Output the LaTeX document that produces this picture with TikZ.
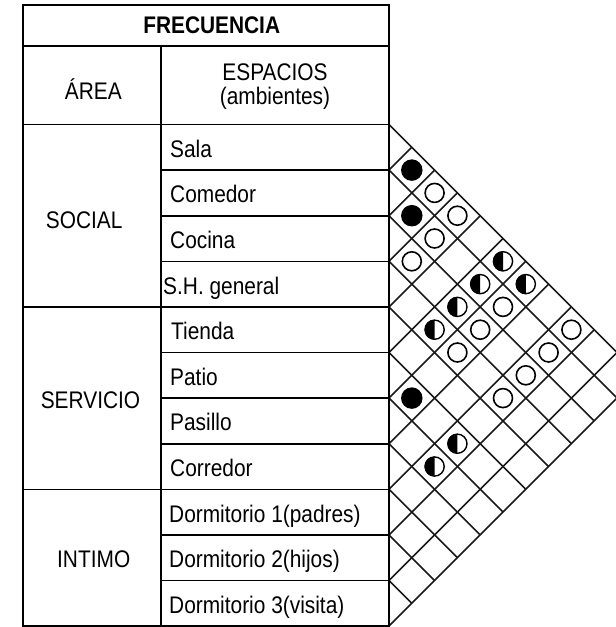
\documentclass[tikz,border=0pt]{standalone}
\usepackage{fontspec}
\setmainfont{Liberation Sans}[FakeStretch=0.87]
\begin{document}
\begin{tikzpicture}[x=1pt,y=-1pt,
  gridline/.style={line width=1.6pt, black!90},
  tabline/.style={line width=1.6pt, black},
  lbl/.style={inner sep=0pt, font=\fontsize{24}{28}\selectfont},
  symfull/.style={circle, fill=black, minimum size=21.5pt, inner sep=0pt},
  symopen/.style={circle, draw=black, line width=1.6pt, minimum size=19pt, inner sep=0pt},
]
\useasboundingbox (0,0) rectangle (616,627);
\clip (0,0) rectangle (616,627);
\def\H{45.6}
\def\Y{124.5}
\def\X{389}
\pgfmathsetmacro\B{\Y+11*\H}

% diagonal grid of the relation matrix
\foreach \k in {0,...,11}{
  \coordinate (B\k) at (\X,{\Y+\k*\H});
  \draw[gridline] (B\k) -- ++({(11-\k)*\H/2},{(11-\k)*\H/2});
  \draw[gridline] (B\k) -- ++({\k*\H/2},{-\k*\H/2});
}

% table
\draw[tabline] (23,5) rectangle (\X,\B);
\draw[tabline] (23,46) -- (\X,46);
\draw[tabline] (161,46) -- (161,\B);
\foreach \k in {0,4,8}{
  \draw[tabline] (23,{\Y+\k*\H}) -- (\X,{\Y+\k*\H});
}
\foreach \k in {1,2,3,5,6,7,9,10}{
  \draw[tabline] (161,{\Y+\k*\H}) -- (\X,{\Y+\k*\H});
}

% header texts
\node[lbl, font=\fontsize{24}{28}\selectfont\bfseries, anchor=base] (frec) at (211.7,33) {FRECUENCIA};
\node[lbl, anchor=base] (area) at (93.3,99) {ÁREA};
\node[lbl, anchor=base] (esp) at (275,80) {ESPACIOS};
\node[lbl, anchor=base] (amb) at (275,104) {(ambientes)};

% area texts
\node[lbl, anchor=base] (social) at (84.2,228) {SOCIAL};
\node[lbl, anchor=base] (servicio) at (90.5,408) {SERVICIO};
\node[lbl, anchor=base] (intimo) at (93.7,567) {INTIMO};

% space texts
\foreach \k/\t/\x in {1/Sala/170, 2/Comedor/170, 3/Cocina/170, 4/S.H. general/163,
  5/Tienda/171, 6/Patio/170, 7/Pasillo/170, 8/Corredor/170,
  9/Dormitorio 1(padres)/169, 10/Dormitorio 2(hijos)/169, 11/Dormitorio 3(visita)/169}{
  \node[lbl, anchor=base west] (r\k) at (\x,{\Y+(\k-0.5)*\H+10}) {\t};
}

% symbols
\foreach \i/\j in {1/2,2/3,6/7}{
  \node[symfull] (f\i-\j) at ({\X+(\j-\i)*\H/2},{\Y+((\i+\j)/2-0.5)*\H}) {};
}
\foreach \i/\j in {1/3,1/4,2/4,3/4,2/7,3/7,1/9,4/7,2/9,3/9,4/9}{
  \node[symopen] (o\i-\j) at ({\X+(\j-\i)*\H/2},{\Y+((\i+\j)/2-0.5)*\H}) {};
}
\foreach \i/\j in {1/6,2/6,1/7,3/6,4/6,6/9,7/9}{
  \coordinate (h\i-\j) at ({\X+(\j-\i)*\H/2},{\Y+((\i+\j)/2-0.5)*\H});
  \fill[black] (h\i-\j) ++(0,-10) arc[start angle=90, end angle=270, radius=10pt] -- cycle;
  \draw[black, line width=1.4pt] (h\i-\j) circle[radius=9.6pt];
}
\end{tikzpicture}
\end{document}
